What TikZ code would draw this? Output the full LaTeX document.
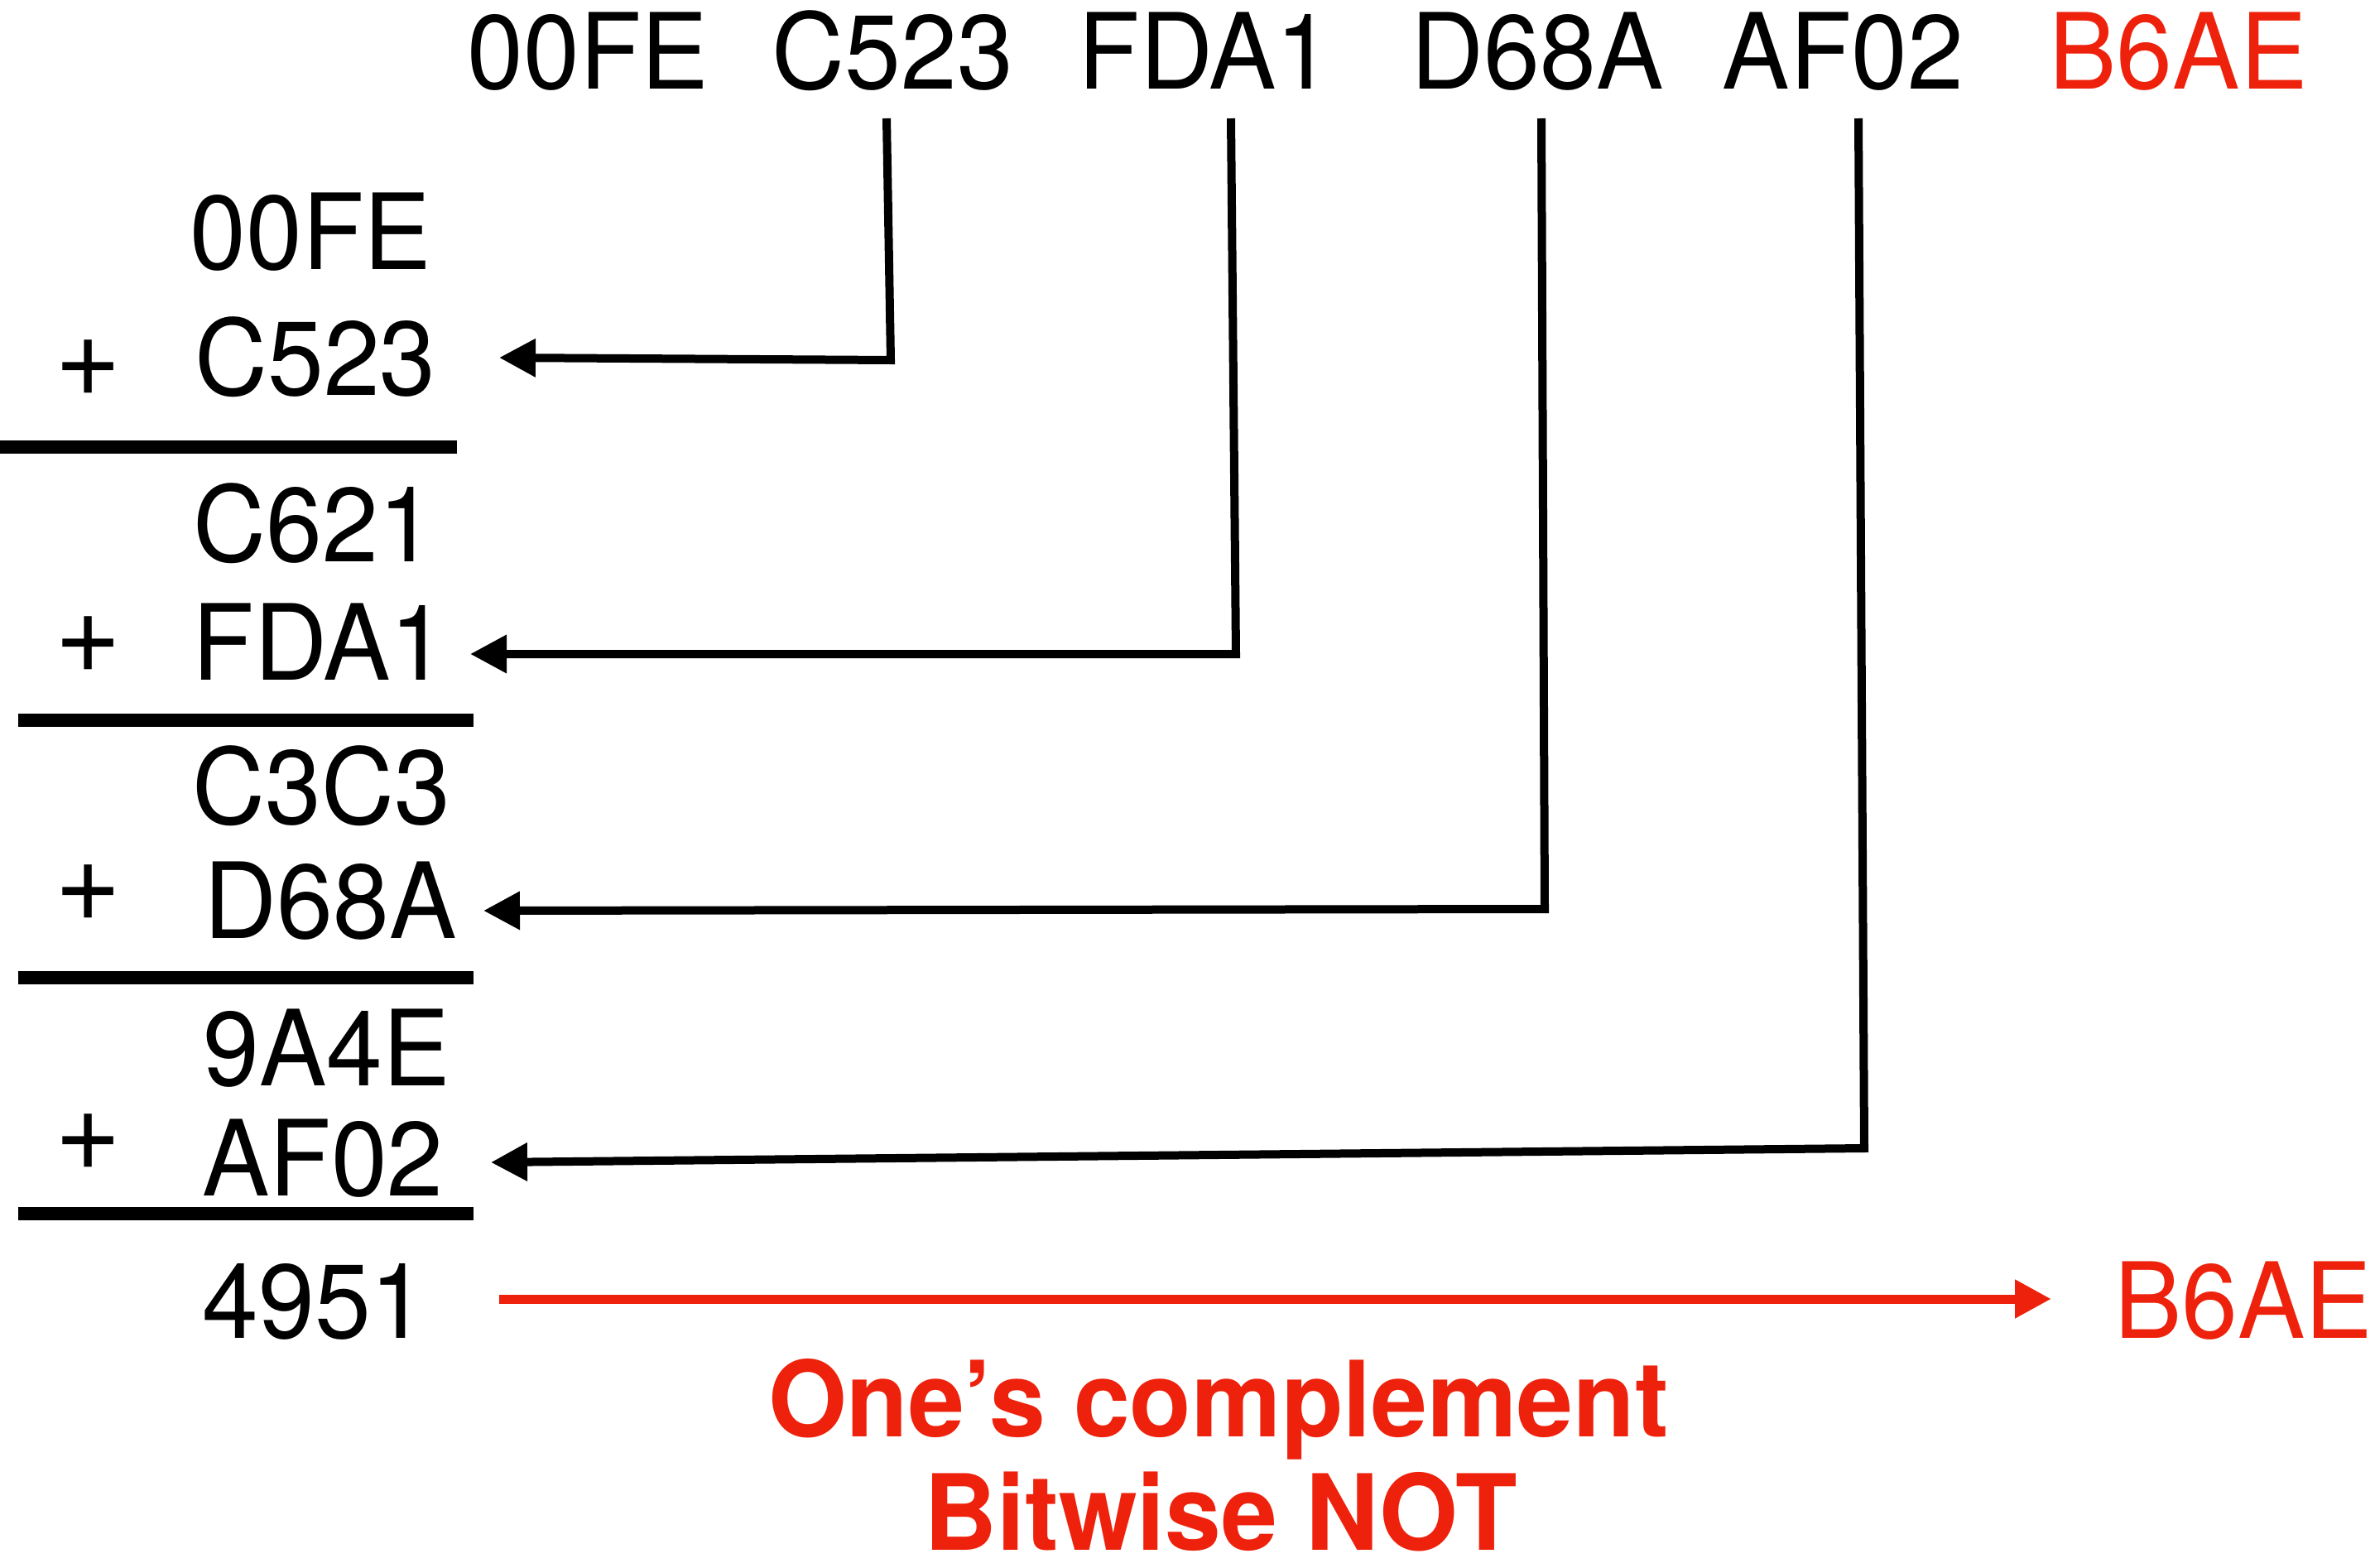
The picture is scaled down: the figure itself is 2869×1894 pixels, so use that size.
\documentclass[tikz,border=0pt]{standalone}
\usepackage{fontspec}
\setmainfont{TeX Gyre Heros}[FakeStretch=0.96]
\usetikzlibrary{arrows.meta}
\definecolor{kred}{RGB}{238,34,12}
\begin{document}
\begin{tikzpicture}[x=1pt,y=-1pt,
  hex/.style={font=\fontsize{127}{150}\selectfont, inner sep=0pt, anchor=base},
  redhex/.style={hex, text=kred},
  note/.style={font=\fontsize{127}{150}\selectfont\bfseries, text=kred, inner sep=0pt, anchor=base},
  plus/.style={font=\fontsize{143}{160}\selectfont, inner sep=0pt, anchor=center},
  rulebar/.style={line width=16pt, draw=black},
  conn/.style={line width=10pt, draw=black, line join=miter, -{Triangle[length=44pt,width=44pt]}},
  redconn/.style={line width=11pt, draw=kred, -{Triangle[length=44pt,width=44pt]}}]
\useasboundingbox (0,0) rectangle (2869,1894);

% top row
\node[hex] (t1) at (710.5,108) {00FE};
\node[hex] (t2) at (1078.5,108) {C523};
\node[hex] (t3) at (1456,108) {FDA1};
\node[hex] (t4) at (1857,108) {D68A};
\node[hex] (t5) at (2226.5,108) {AF02};
\node[redhex] (t6) at (2631.5,108) {B6AE};

% left column
\node[hex] (a1) at (375.5,325) {00FE};
\node[hex] (b1) at (381,477) {C523};
\node[hex] (a2) at (379.5,678) {C621};
\node[hex] (b2) at (386,821) {FDA1};
\node[hex] (a3) at (388,995) {C3C3};
\node[hex] (b3) at (399,1133) {D68A};
\node[hex] (a4) at (394.5,1311) {9A4E};
\node[hex] (b4) at (390,1444) {AF02};
\node[hex] (res) at (380,1616) {4951};
\node[redhex] (fin) at (2710,1616) {B6AE};

\node[plus] (p1) at (107,445) {+};
\node[plus] (p2) at (107,779) {+};
\node[plus] (p3) at (107,1079) {+};
\node[plus] (p4) at (107,1380) {+};

% rules
\draw[rulebar] (0,540) -- (552,540);
\draw[rulebar] (22,870) -- (572,870);
\draw[rulebar] (22,1181) -- (572,1181);
\draw[rulebar] (22,1466) -- (572,1466);

% connectors
\coordinate (s1) at (1071,143); \coordinate (k1) at (1076,435); \coordinate (e1) at (603,432);
\coordinate (s2) at (1487,143); \coordinate (k2) at (1493,790); \coordinate (e2) at (568,790);
\coordinate (s3) at (1862,143); \coordinate (k3) at (1866,1098); \coordinate (e3) at (584,1100);
\coordinate (s4) at (2245,143); \coordinate (k4) at (2252,1387); \coordinate (e4) at (593,1404);
\draw[conn] (s1) -- (k1) -- (e1);
\draw[conn] (s2) -- (k2) -- (e2);
\draw[conn] (s3) -- (k3) -- (e3);
\draw[conn] (s4) -- (k4) -- (e4);

\coordinate (rs) at (603,1569); \coordinate (re) at (2478,1569);
\draw[redconn] (rs) -- (re);

\node[note] (n1) at (1472,1735) {One’s complement};
\node[note, text depth=0pt] (n2) at (1475,1872) {Bitwise NOT};
\end{tikzpicture}
\end{document}
